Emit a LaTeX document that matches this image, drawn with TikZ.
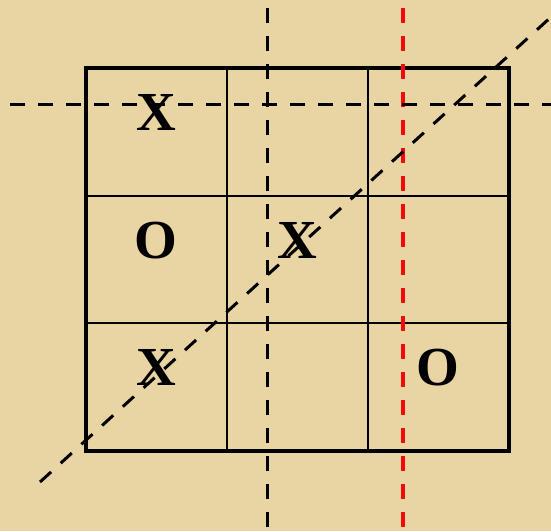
\documentclass[tikz,border=0pt]{standalone}
\usepackage{fontspec}
\setmainfont{Liberation Serif}
\definecolor{parch}{RGB}{233,213,163}
\definecolor{dred}{RGB}{240,10,10}
\tikzset{
  grid/.style={line width=2pt, black},
  frame/.style={line width=4.2pt, black, line join=miter},
  cut/.style={line width=3pt, dash pattern=on 15pt off 13pt},
  mark/.style={}, 
  piece/.style={inner sep=0pt, font=\fontsize{55}{55}\selectfont\bfseries}
}
\begin{document}
\begin{tikzpicture}[x=1pt,y=-1pt]
\fill[parch] (0,0) rectangle (551,531);
\useasboundingbox (0,0) rectangle (551,531);
% grid lines
\draw[grid] (227,68) -- (227,451);
\draw[grid] (368,68) -- (368,451);
\draw[grid] (86,196) -- (509,196);
\draw[grid] (86,323) -- (509,323);
\draw[frame] (86,68) rectangle (509,451);
% pieces
\node[piece] (x1) at (156,112) {X};
\node[piece] (o1) at (156,241) {O};
\node[piece] (x2) at (297,240) {X};
\node[piece] (x3) at (156,367) {X};
\node[piece] (o2) at (438,368) {O};
% dashed cut lines
\coordinate (vbt) at (267.5,8);
\coordinate (vbb) at (267.5,531);
\coordinate (vrt) at (403,8);
\coordinate (vrb) at (403,531);
\coordinate (hl) at (10,104);
\coordinate (hr) at (551,104);
\coordinate (dl) at (40,482);
\coordinate (dr) at (551,17);
\draw[cut] (vbt) -- (vbb);
\draw[cut, dred, line width=3.5pt] (vrt) -- (vrb);
\draw[cut] (hl) -- (hr);
\draw[cut] (dl) -- (dr);
\end{tikzpicture}
\end{document}
